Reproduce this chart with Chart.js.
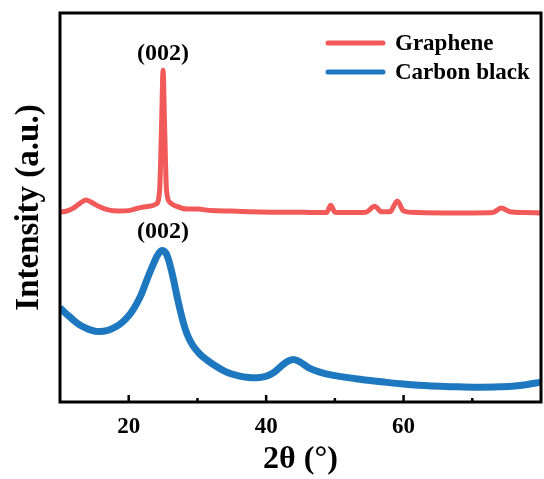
<!DOCTYPE html>
<html>
<head>
<meta charset="utf-8">
<script src="https://cdn.jsdelivr.net/npm/chart.js@4.4.1/dist/chart.umd.min.js"></script>
<style>
  html, body { margin: 0; padding: 0; background: #fff; }
  #wrap { width: 544px; height: 479px; }
</style>
</head>
<body>
<div id="wrap"><canvas id="xrd"></canvas></div>
<script>
// dados (2θ em graus, intensidade em unidades arbitrárias)
const seriesNames = ['Graphene', 'Carbon black']
const peakLabels = ['(002)', '(002)']

const angleGraphene = [10, 11, 12, 13, 13.8, 14.5, 15.5, 17, 18.5, 20, 21.5, 23, 24, 24.5, 24.8, 25, 25.2, 25.5, 26, 27,
  28.5, 30, 32, 35, 38, 41, 44, 47, 48.8, 49.4, 50, 52, 54.5, 55.8, 56.8, 58, 59.1, 60, 62, 66, 70, 73, 74.2, 75.5, 77.5, 80]
const intensityGraphene = [48.8, 49.1, 49.9, 51.2, 51.9, 51.4, 50.4, 49.4, 49.1, 49.2, 49.9, 50.3, 50.9, 54.5, 72.5, 85.3, 72.5, 54.5, 51.3, 50.3,
  49.6, 49.6, 49.2, 49.1, 48.9, 48.8, 48.8, 48.7, 48.7, 50.6, 48.8, 48.7, 48.8, 50.3, 48.9, 48.9, 51.7, 49.1, 48.7, 48.6, 48.6, 48.7, 49.9, 48.9, 48.7, 48.6]

const angleCarbon = [10, 11.4, 13.3, 15.8, 18.2, 20.1, 21.6, 22.6, 23.6, 24.4, 25, 25.6, 26.4, 27.1, 27.8, 28.5, 29.3, 30.3, 31.3, 32.7,
  34.2, 36, 37.5, 39, 40, 41.2, 42.3, 43.3, 44.1, 45, 46.2, 47.8, 49.6, 53, 56.8, 60, 64, 68, 71.3, 74, 76.2, 78, 80]
const intensityCarbon = [24.2, 21.9, 19.4, 18.1, 19.4, 22.4, 26.8, 31.2, 35.5, 38.3, 38.9, 37.6, 32.4, 26.6, 21.4, 17.4, 14.6, 12.4, 10.9, 9.2,
  7.7, 6.7, 6.3, 6.3, 6.6, 7.7, 9.4, 10.6, 10.9, 10.2, 8.8, 7.7, 6.9, 6.0, 5.2, 4.6, 4.1, 3.9, 3.8, 3.9, 4.1, 4.5, 5.1]

const xTickValues = [20, 40, 60]
const xMinorTicks = [30, 50, 70]

const corVermelha = 'rgb(242, 90, 90)'
const corAzul = 'rgb(30, 120, 192)'
const fonteSerif = "'Liberation Serif', 'Times New Roman', serif"

// junta x e y em pontos para o chart.js
const toPoints = (xs, ys) => xs.map((x, i) => ({ x, y: ys[i] }))

// moldura, ticks para dentro, legenda e rótulos dos picos
const molduraPlugin = {
  id: 'moldura',
  afterDatasetsDraw(chart) {
    const { ctx, chartArea: a, scales } = chart
    ctx.save()
    ctx.strokeStyle = '#000'
    ctx.lineWidth = 3
    ctx.strokeRect(a.left, a.top, a.right - a.left, a.bottom - a.top)

    // ticks do eixo x apontando para dentro
    ctx.lineWidth = 2.5
    xTickValues.forEach(v => {
      const px = scales.x.getPixelForValue(v)
      ctx.beginPath(); ctx.moveTo(px, a.bottom); ctx.lineTo(px, a.bottom - 7); ctx.stroke()
    })
    xMinorTicks.forEach(v => {
      const px = scales.x.getPixelForValue(v)
      ctx.beginPath(); ctx.moveTo(px, a.bottom); ctx.lineTo(px, a.bottom - 4); ctx.stroke()
    })

    // rótulos (002) acima de cada pico
    ctx.fillStyle = '#000'
    ctx.font = `bold 24px ${fonteSerif}`
    ctx.textAlign = 'center'
    ctx.textBaseline = 'middle'
    chart.data.datasets.forEach((ds, i) => {
      let topo = ds.data[0]
      ds.data.forEach(p => { if (p.y > topo.y) topo = p })
      const px = scales.x.getPixelForValue(topo.x)
      const py = scales.y.getPixelForValue(topo.y)
      ctx.fillText(peakLabels[i], px, py - (i === 0 ? 16 : 19))
    })

    // legenda no canto superior direito
    ctx.font = `bold 23px ${fonteSerif}`
    ctx.textAlign = 'left'
    chart.data.datasets.forEach((ds, i) => {
      const y = a.top + 30 + i * 29
      ctx.strokeStyle = ds.borderColor
      ctx.lineWidth = 5
      ctx.lineCap = 'round'
      ctx.beginPath(); ctx.moveTo(a.right - 213, y); ctx.lineTo(a.right - 158, y); ctx.stroke()
      ctx.fillText(ds.label, a.right - 146, y + 1)
    })
    ctx.restore()
  },
}

const grafico = new Chart(document.getElementById('xrd').getContext('2d'), {
  type: 'line',
  data: {
    datasets: [
      {
        label: seriesNames[0],
        data: toPoints(angleGraphene, intensityGraphene),
        borderColor: corVermelha,
        borderWidth: 5,
        pointRadius: 0,
        cubicInterpolationMode: 'monotone',
      },
      {
        label: seriesNames[1],
        data: toPoints(angleCarbon, intensityCarbon),
        borderColor: corAzul,
        borderWidth: 7,
        pointRadius: 0,
        tension: 0.4,
      },
    ],
  },
  options: {
    responsive: true,
    maintainAspectRatio: false,
    animation: false,
    layout: { padding: { top: 13, right: 3, left: 0, bottom: 0 } },
    plugins: { legend: { display: false }, tooltip: { enabled: false } },
    scales: {
      x: {
        type: 'linear',
        min: 10,
        max: 80,
        afterBuildTicks: s => { s.ticks = xTickValues.map(v => ({ value: v })) },
        afterFit: s => { s.height = 77 },
        grid: { display: false, drawTicks: false },
        border: { display: false },
        ticks: { color: '#000', padding: 11, font: { family: fonteSerif, size: 23, weight: 'bold' } },
        title: {
          display: true,
          text: '2θ (°)',
          color: '#000',
          padding: { top: 0, bottom: 0 },
          font: { family: fonteSerif, size: 32, weight: 'bold' },
        },
      },
      y: {
        min: 0,
        max: 100,
        afterFit: s => { s.width = 60 },
        grid: { display: false, drawTicks: false },
        border: { display: false },
        ticks: { display: false },
        title: {
          display: true,
          text: 'Intensity (a.u.)',
          color: '#000',
          padding: { top: 10, bottom: 0 },
          font: { family: fonteSerif, size: 33, weight: 'bold' },
        },
      },
    },
  },
  plugins: [molduraPlugin],
})
</script>
</body>
</html>
